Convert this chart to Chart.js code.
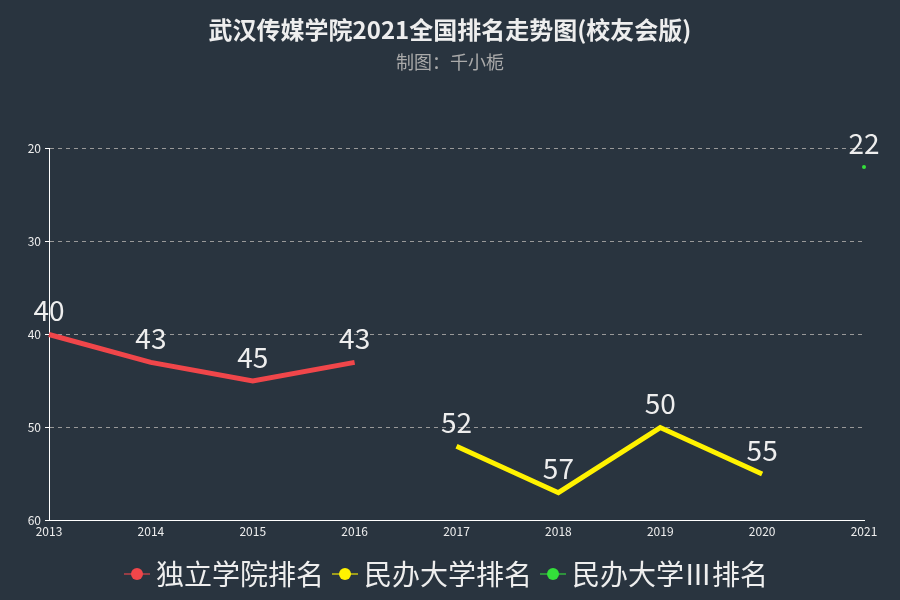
<!DOCTYPE html>
<html>
<head>
<meta charset="utf-8">
<script src="https://cdn.jsdelivr.net/npm/chart.js@4"></script>
<style>
  html, body { margin: 0; padding: 0; background: #29343f; }
  #wrap { width: 900px; height: 600px; }
</style>
</head>
<body>
<div id="wrap"><canvas id="myChart1"></canvas></div>
<script>
let years = ['2013', '2014', '2015', '2016', '2017', '2018', '2019', '2020', '2021'];
let duliRank = [40, 43, 45, 43, null, null, null, null, null];
let minbanRank = [null, null, null, null, 52, 57, 50, 55, null];
let minban3Rank = [null, null, null, null, null, null, null, null, 22];
let seriesNames = ['独立学院排名', '民办大学排名', '民办大学Ⅲ排名'];
let colorHex = ['#f0464a', '#fff200', '#33e03a'];
let yTicks = [20, 30, 40, 50, 60];

let font = '"Noto Sans CJK SC", "Noto Sans", sans-serif';

function legendIcon(color) {
  let c = document.createElement('canvas');
  c.width = 26; c.height = 14;
  let g = c.getContext('2d');
  g.globalAlpha = 0.55;
  g.strokeStyle = color;
  g.lineWidth = 2;
  g.beginPath(); g.moveTo(0, 7); g.lineTo(26, 7); g.stroke();
  g.globalAlpha = 1;
  g.fillStyle = color;
  g.beginPath(); g.arc(13, 7, 6, 0, Math.PI * 2); g.fill();
  return c;
}

// value labels above each point
let pointLabels = {
  id: 'pointLabels',
  afterDatasetsDraw(chart) {
    let g = chart.ctx;
    g.save();
    g.font = '28px ' + font;
    g.fillStyle = '#eeeeee';
    g.textAlign = 'center';
    g.textBaseline = 'bottom';
    chart.data.datasets.forEach((ds, i) => {
      chart.getDatasetMeta(i).data.forEach((pt, j) => {
        if (ds.data[j] == null) return;
        g.fillText(ds.data[j], pt.x, pt.y - 10);
      });
    });
    g.restore();
  }
};

let ctx = document.getElementById('myChart1').getContext('2d');
let datasets = [duliRank, minbanRank, minban3Rank].map((d, i) => ({
  label: seriesNames[i],
  data: d,
  borderColor: colorHex[i],
  backgroundColor: colorHex[i],
  borderWidth: 5,
  tension: 0,
  pointRadius: i === 2 ? 2 : 0,
  pointBorderWidth: 0,
  pointHoverRadius: 0
}));

let myChart1 = new Chart(ctx, {
  type: 'line',
  data: { labels: years, datasets: datasets },
  plugins: [pointLabels],
  options: {
    responsive: true,
    maintainAspectRatio: false,
    animation: false,
    layout: { padding: { top: 0, left: 0, right: 0, bottom: 2 } },
    plugins: {
      title: {
        display: true,
        text: '武汉传媒学院2021全国排名走势图(校友会版)',
        color: '#eeeeee',
        font: { family: font, size: 24, weight: 'bold' },
        padding: { top: 15, bottom: 6 }
      },
      subtitle: {
        display: true,
        text: '制图：千小栀',
        color: '#aaaaaa',
        font: { family: font, size: 18 },
        padding: { top: 2, bottom: 75 }
      },
      legend: {
        position: 'bottom',
        labels: {
          color: '#eeeeee',
          font: { family: font, size: 28 },
          usePointStyle: true,
          pointStyleWidth: 10,
          padding: 16,
          generateLabels: (chart) => chart.data.datasets.map((ds, i) => ({
            text: ds.label,
            pointStyle: legendIcon(colorHex[i]),
            fontColor: '#eeeeee',
            datasetIndex: i,
            lineWidth: 0,
            strokeStyle: 'transparent'
          }))
        }
      },
      tooltip: { enabled: false }
    },
    scales: {
      x: {
        offset: false,
        afterFit: (scale) => { scale.height += 5; },
        grid: { display: false, drawTicks: true, tickLength: 4, tickColor: '#ffffff' },
        border: { color: '#ffffff', width: 1 },
        ticks: { color: '#eeeeee', font: { family: font, size: 12 }, maxRotation: 0, padding: 0 }
      },
      y: {
        reverse: true,
        min: 20,
        max: 60,
        afterFit: (scale) => { scale.width = 49; },
        afterBuildTicks: (scale) => { scale.ticks = yTicks.map(v => ({ value: v })); },
        grid: {
          color: (c) => c.tick && c.tick.value === 60 ? 'rgba(0,0,0,0)' : '#999999',
          tickColor: '#ffffff',
          tickLength: 4
        },
        border: { color: '#ffffff', width: 1, dash: [4, 4] },
        ticks: { color: '#eeeeee', font: { family: font, size: 12 }, padding: 4 }
      },
      // empty right-hand space so the plot ends at 2021 like the original
      yRight: {
        position: 'right',
        display: true,
        afterFit: (scale) => { scale.width = 36; },
        grid: { display: false, drawTicks: false },
        border: { display: false },
        ticks: { display: false }
      }
    }
  }
});
</script>
</body>
</html>
